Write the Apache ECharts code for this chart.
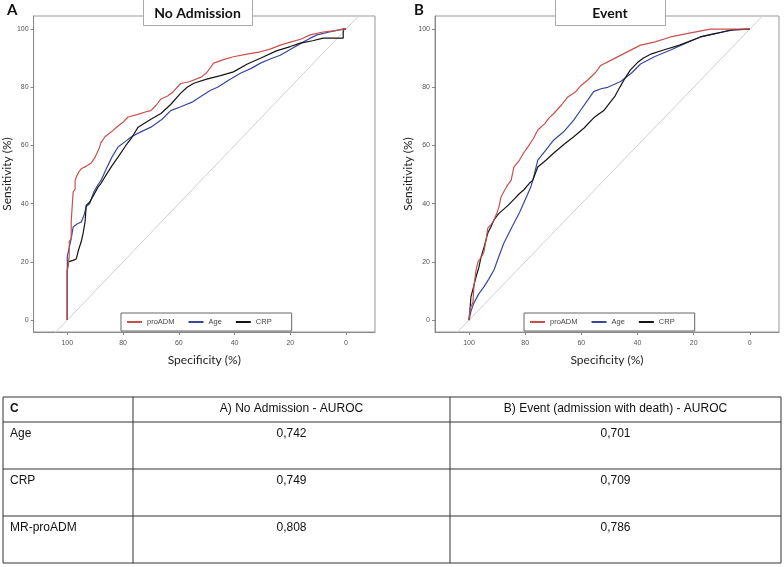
<!DOCTYPE html>
<html>
<head>
<meta charset="utf-8">
<script src="https://cdn.jsdelivr.net/npm/echarts@6/dist/echarts.min.js"></script>
<style>html,body{margin:0;padding:0;background:#fff}#c{width:784px;height:567px}</style>
</head>
<body>
<div id="c"></div>
<script>
// ---- data: [specificity %, sensitivity %] ----
const rocA_proADM = [[100,0],[100,17],[99.3,22],[99.3,27],[98.6,28],[98.6,34],[97.9,34],[97.9,44],[97.2,45],[97.2,48],[96.4,50],[95.8,51],[95,52],[93,53],[91.4,54],[90,56],[88.6,59],[87.9,61],[86.5,63],[84.3,64.6],[82,66.5],[80,68],[78.2,69.8],[75,70.6],[72,71.5],[70,72],[68,74],[66.4,76],[64,77],[62,78.5],[59.3,81.3],[56,82],[52,83.5],[50,85],[47.5,88.3],[44,89.5],[40.4,90.5],[35,91.5],[30.7,92.2],[27,93.2],[23.6,94.5],[20,95.5],[16,96.6],[12.9,98],[8.2,99],[4,99.5],[1,100],[0,100]];
const rocA_Age = [[100,0],[100,22],[99.3,25],[98.6,28],[97.9,32],[96.5,33],[95,33.7],[94,36],[93.2,39],[92,40],[90.5,44],[89,46.5],[87.9,48],[86,52],[84,56],[81.8,59.5],[79,61.5],[77,63],[74,64.5],[70,66.3],[66,69],[62.9,72],[59.3,73.3],[55,75],[52.1,76.8],[48.6,79],[46.1,80],[42,82.5],[37.9,84.8],[34,86.5],[30.7,88.3],[27,89.8],[23.6,91],[20,93],[16.4,95],[13,96.8],[10.4,98],[6,99],[1,100],[0,100]];
const rocA_CRP = [[100,0],[100,17],[99.6,20],[98,20.5],[96.8,21],[96,24],[95,27],[94.3,30],[93.6,34],[93.2,39.5],[92,40.5],[90.5,43],[89,45.7],[87.9,47],[86,50],[84,53],[81.8,56],[79,60],[77,62.5],[74.6,66.3],[70,69],[66.4,71],[63,74],[59.3,78],[57,80],[54.6,81.4],[50,82.8],[45,84],[40.4,85.3],[35.4,88],[30.7,90],[25,92.5],[20,94],[16.4,95.2],[12,96],[8.2,96.9],[1,96.9],[1,100],[0,100]];
const rocB_proADM = [[100,0],[99.6,4],[98.6,6],[98.2,12],[97.5,17],[96.8,20],[95.7,21.5],[94.7,23.4],[94,27],[93.3,31.6],[92,33],[91.1,34.4],[90,37],[89.3,39],[88.6,42.3],[87.9,43.6],[86.5,46],[85,48],[84,52.6],[82,55],[80.5,57.5],[79,59.5],[77,62.5],[75.5,65.3],[73,67.5],[71.5,69.5],[69.8,71],[67,74],[64.8,76.7],[62,78.5],[60.2,80.5],[57.7,82.5],[55,85],[53.1,87.5],[49,89.5],[44,92],[38.9,94.5],[34,95.5],[28.2,97.3],[22,98.5],[14,100],[0,100]];
const rocB_Age = [[100,0],[99.3,3],[98.2,6],[96.5,9],[94.7,11.4],[93,14],[91.1,17.2],[89.5,21.5],[87.6,26.4],[86,29.5],[84,33.3],[82,37],[80.5,40.2],[79,43.5],[78,45.7],[77,49],[75.5,55],[73,58],[69.8,61.9],[66,65],[62.7,68.7],[60.2,72.2],[57.7,75.6],[55.6,78.5],[53,79.5],[50.6,80],[46,82],[42,85],[38.9,88],[34,90.5],[28.2,92.8],[22,95.5],[17.6,97.3],[12,98.5],[5.9,99.7],[0,100]];
const rocB_CRP = [[100,0],[99.6,4],[99.3,8],[98.5,11],[97.5,14.8],[96.5,18],[95.7,21.6],[94.5,25.5],[93.3,29.9],[92.2,32],[91.1,34.4],[89.5,36.5],[88,37.8],[86,39.5],[84,41.5],[82,43.5],[80.5,44.7],[78.5,47],[77.3,48],[75.5,52.6],[72.5,55],[69.8,57.4],[66,60.5],[62.7,63],[59,66],[55.6,69.5],[52,72],[49.6,75],[48,77],[46,80.5],[44.5,83],[42.5,86],[40,88.5],[38,90],[35,91.5],[30.7,92.8],[25,94.5],[17.6,97.3],[12,98.5],[6.9,99.7],[0,100]];
const chanceLine = [[115,-15],[-15,115]];
const tickValues = [0,20,40,60,80,100];
const seriesNames = ['proADM','Age','CRP'];
const panelTitles = ['No Admission','Event'];
const panelLetters = ['A','B'];
const tableHeader = ['C','A) No Admission - AUROC','B) Event (admission with death) - AUROC'];
const rowLabels = ['Age','CRP','MR-proADM'];
const aurocA = ['0,742','0,749','0,808'];
const aurocB = ['0,701','0,709','0,786'];

// ---- styles / layout ----
const colors = {proADM:'#c8504c', Age:'#3b479c', CRP:'#151515'};
const grids = [
  {left:32, top:16, width:343, height:316},
  {left:435, top:16, width:344, height:316}
];
const tickFont = {fontFamily:'Liberation Sans', fontSize:7, color:'#555'};

const chart = echarts.init(document.getElementById('c'), null, {renderer:'canvas'});

function xAx(i){
  return {gridIndex:i, type:'value', inverse:true, min:-10.4, max:112.1,
    name:'Specificity (%)', nameLocation:'middle', nameGap:22,
    nameTextStyle:{fontFamily:'Lato', fontSize:12, color:'#222'},
    axisLine:{show:true, onZero:false, lineStyle:{color:'#888', width:1}},
    axisTick:{show:true, length:3, customValues:tickValues, lineStyle:{color:'#888'}},
    axisLabel:Object.assign({margin:8, customValues:tickValues}, tickFont),
    splitLine:{show:false}};
}
function yAx(i){
  return {gridIndex:i, type:'value', min:-4.1, max:104.5,
    name:'Sensitivity (%)', nameLocation:'middle', nameGap:15,
    nameTextStyle:{fontFamily:'Lato', fontSize:12, color:'#222'},
    axisLine:{show:true, onZero:false, lineStyle:{color:'#888', width:1}},
    axisTick:{show:true, length:3, customValues:tickValues, lineStyle:{color:'#888'}},
    axisLabel:Object.assign({margin:5, customValues:tickValues}, tickFont),
    splitLine:{show:false}};
}

const rocData = [
  {proADM:rocA_proADM, Age:rocA_Age, CRP:rocA_CRP},
  {proADM:rocB_proADM, Age:rocB_Age, CRP:rocB_CRP}
];
const series = [];
[0,1].forEach(i => {
  series.push({type:'line', name:'chance', xAxisIndex:i, yAxisIndex:i, data:chanceLine,
    symbol:'none', clip:true, silent:true, lineStyle:{color:'#cfcfcf', width:1}, z:1});
  ['Age','CRP','proADM'].forEach(n => {
    series.push({type:'line', name:n, xAxisIndex:i, yAxisIndex:i, data:rocData[i][n],
      symbol:'none', clip:true, lineStyle:{color:colors[n], width:1.2}, itemStyle:{color:colors[n]}, z:3});
  });
});

const legends = [0,1].map(i => ({
  data:seriesNames, left:grids[i].left+89, top:313, orient:'horizontal',
  icon:'rect', itemWidth:15, itemHeight:2, itemGap:14,
  padding:[5,20,5,6], borderColor:'#666', borderWidth:1, backgroundColor:'#fff',
  textStyle:{fontFamily:'Liberation Sans', fontSize:7.5, color:'#444', padding:[0,0,0,0]}
}));

// graphics: panel titles, letters, table
const graphic = [];
const titleBoxes = [{x:143, w:109}, {x:555, w:110}];
[0,1].forEach(i => {
  graphic.push({type:'rect', left:titleBoxes[i].x, top:-1, shape:{width:titleBoxes[i].w, height:26},
    style:{fill:'#fff', stroke:'#aaa', lineWidth:1}, z:100});
  graphic.push({type:'text', x:titleBoxes[i].x + titleBoxes[i].w/2, y:13,
    style:{text:panelTitles[i], font:'bold 14px Lato', fill:'#111', align:'center', verticalAlign:'middle'}, z:101});
  graphic.push({type:'text', x:i===0?7:414, y:10,
    style:{text:panelLetters[i], font:'bold 15px Lato', fill:'#111', align:'left', verticalAlign:'middle'}, z:101});
});

const colX = [3,133,450,781];
const rowY = [397,422,469,516,563];
rowY.forEach(y => graphic.push({type:'line', shape:{x1:colX[0], y1:y, x2:colX[3], y2:y}, style:{stroke:'#333', lineWidth:1}}));
colX.forEach(x => graphic.push({type:'line', shape:{x1:x, y1:rowY[0], x2:x, y2:rowY[4]}, style:{stroke:'#333', lineWidth:1}}));
const tfont = '12px "Liberation Sans"';
graphic.push({type:'text', x:10, y:409, style:{text:tableHeader[0], font:'bold 12px "Liberation Sans"', fill:'#111', verticalAlign:'middle'}});
graphic.push({type:'text', x:(colX[1]+colX[2])/2, y:409, style:{text:tableHeader[1], font:tfont, fill:'#111', align:'center', verticalAlign:'middle'}});
graphic.push({type:'text', x:(colX[2]+colX[3])/2, y:409, style:{text:tableHeader[2], font:tfont, fill:'#111', align:'center', verticalAlign:'middle'}});
rowLabels.forEach((lab, r) => {
  const y = rowY[r+1] + 12;
  graphic.push({type:'text', x:10, y:y, style:{text:lab, font:tfont, fill:'#111', verticalAlign:'middle'}});
  graphic.push({type:'text', x:(colX[1]+colX[2])/2, y:y, style:{text:aurocA[r], font:tfont, fill:'#111', align:'center', verticalAlign:'middle'}});
  graphic.push({type:'text', x:(colX[2]+colX[3])/2, y:y, style:{text:aurocB[r], font:tfont, fill:'#111', align:'center', verticalAlign:'middle'}});
});

chart.setOption({
  animation:false,
  backgroundColor:'#fff',
  grid: grids.map(g => Object.assign({show:true, borderColor:'#999', borderWidth:1, backgroundColor:'transparent', containLabel:false}, g)),
  xAxis:[xAx(0), xAx(1)],
  yAxis:[yAx(0), yAx(1)],
  legend: legends,
  series: series,
  graphic: graphic
});
</script>
</body>
</html>
